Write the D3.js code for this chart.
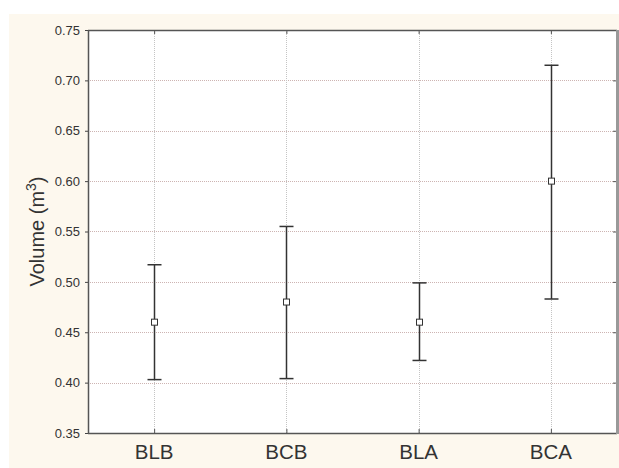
<!DOCTYPE html>
<html><head><meta charset="utf-8">
<script src="https://cdn.jsdelivr.net/npm/d3@7/dist/d3.min.js"></script>
<style>body{margin:0;background:#fff;}svg{display:block;}</style>
</head><body>
<script>
const categories = ["BLB","BCB","BLA","BCA"];
const means = [0.460, 0.480, 0.460, 0.600];
const upper = [0.517, 0.555, 0.499, 0.715];
const lower = [0.403, 0.404, 0.422, 0.483];
const yTicks = [0.35,0.40,0.45,0.50,0.55,0.60,0.65,0.70,0.75];

const W=619,H=468;
const m={l:88,r:617,t:30,b:433};
const FONT="Liberation Sans, Arial, sans-serif";
const svg=d3.select("body").append("svg").attr("width",W).attr("height",H);
svg.append("rect").attr("x",9).attr("y",14).attr("width",W-9).attr("height",454).attr("fill","#fdf8ee");
svg.append("rect").attr("x",m.l).attr("y",m.t).attr("width",m.r-m.l).attr("height",m.b-m.t).attr("fill","#fff");

const x=d3.scalePoint().domain(categories).range([m.l,m.r]).padding(0.5);
const y=d3.scaleLinear().domain([0.35,0.75]).range([m.b,m.t]);

// grid
svg.append("g").selectAll("line").data(yTicks.slice(1,-1)).join("line")
 .attr("x1",m.l).attr("x2",m.r).attr("y1",d=>Math.round(y(d))+0.5).attr("y2",d=>Math.round(y(d))+0.5)
 .attr("stroke","#cdb4b2").attr("stroke-dasharray","1,1");
svg.append("g").selectAll("line").data(categories).join("line")
 .attr("x1",d=>Math.round(x(d))+0.5).attr("x2",d=>Math.round(x(d))+0.5).attr("y1",m.t).attr("y2",m.b)
 .attr("stroke","#c4c4c4").attr("stroke-dasharray","1,1");

// axes
const ya=d3.axisLeft(y).tickValues(yTicks).tickFormat(d3.format(".2f")).tickSize(3).tickPadding(5);
const gy=svg.append("g").attr("transform",`translate(${m.l},0)`).call(ya);
gy.select(".domain").remove();
gy.selectAll("line").attr("stroke","#444");
gy.selectAll("text").attr("font-family",FONT).attr("font-size",13).attr("fill","#333");

const yr=d3.axisLeft(y).tickValues(yTicks).tickFormat("").tickSize(3);
const gyr=svg.append("g").attr("transform",`translate(${m.r-1},0)`).call(yr);
gyr.select(".domain").remove(); gyr.selectAll("line").attr("stroke","#555");

const xa=d3.axisTop(x).tickSize(4).tickFormat("");
const gx=svg.append("g").attr("transform",`translate(0,${m.b})`).call(xa);
gx.select(".domain").remove(); gx.selectAll("line").attr("stroke","#555");
const xt=d3.axisBottom(x).tickSize(4).tickFormat("");
const gxt=svg.append("g").attr("transform",`translate(0,${m.t})`).call(xt);
gxt.select(".domain").remove(); gxt.selectAll("line").attr("stroke","#555");

svg.append("g").selectAll("text").data(categories).join("text")
 .attr("x",d=>x(d)).attr("y",459).attr("text-anchor","middle")
 .attr("font-family",FONT).attr("font-size",20.5).attr("fill","#333").text(d=>d);

// frame
svg.append("line").attr("x1",m.l+0.5).attr("x2",m.l+0.5).attr("y1",m.t).attr("y2",m.b+1).attr("stroke","#555").attr("stroke-width",1.5);
svg.append("line").attr("x1",m.l).attr("x2",m.r).attr("y1",m.t+0.5).attr("y2",m.t+0.5).attr("stroke","#555").attr("stroke-width",1.5);
svg.append("line").attr("x1",m.l).attr("x2",m.r).attr("y1",m.b+0.5).attr("y2",m.b+0.5).attr("stroke","#555").attr("stroke-width",1.5);
svg.append("line").attr("x1",m.r+0.5).attr("x2",m.r+0.5).attr("y1",m.t).attr("y2",m.b+1).attr("stroke","#999").attr("stroke-width",3);

// error bars
const g=svg.append("g");
categories.forEach((c,i)=>{
  const cx=Math.round(x(c))+0.5;
  g.append("line").attr("x1",cx).attr("x2",cx).attr("y1",y(upper[i])).attr("y2",y(lower[i])).attr("stroke","#333").attr("stroke-width",1.5);
  [upper[i],lower[i]].forEach(v=>g.append("line").attr("x1",cx-7).attr("x2",cx+7).attr("y1",y(v)).attr("y2",y(v)).attr("stroke","#333").attr("stroke-width",1.5));
  g.append("rect").attr("x",cx-3).attr("y",y(means[i])-3).attr("width",6).attr("height",6).attr("fill","#fff").attr("stroke","#333").attr("stroke-width",1);
});

// y label
svg.append("text").attr("transform",`translate(44,${(m.t+m.b)/2}) rotate(-90)`).attr("text-anchor","middle")
 .attr("font-family",FONT).attr("font-size",20).attr("fill","#333")
 .call(t=>{t.append("tspan").text("Volume (m");t.append("tspan").attr("baseline-shift","super").attr("font-size",14).text("3");t.append("tspan").text(")");});
</script>
</body></html>
